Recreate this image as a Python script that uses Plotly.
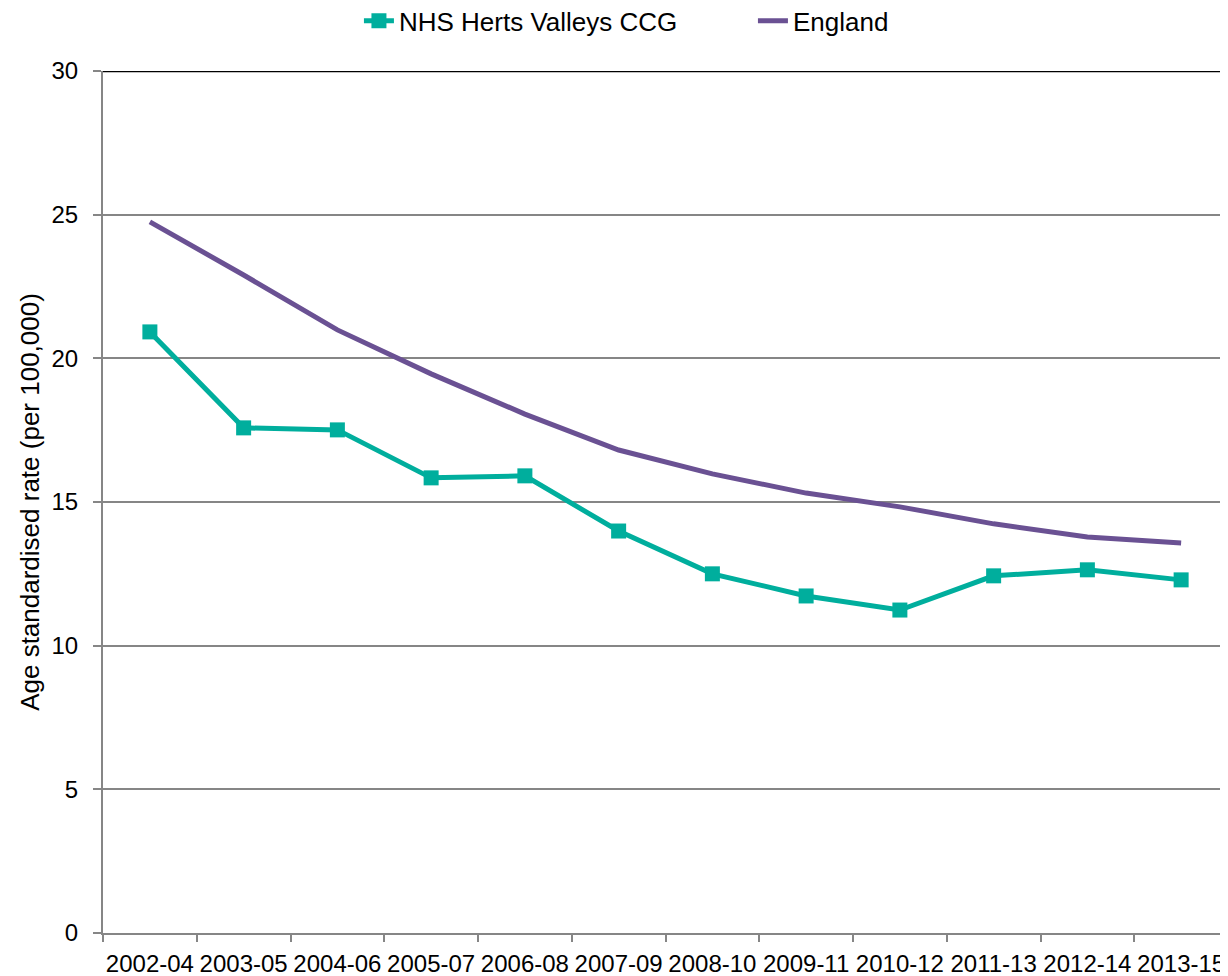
import plotly.graph_objects as go

periods = ["2002-04", "2003-05", "2004-06", "2005-07", "2006-08", "2007-09",
           "2008-10", "2009-11", "2010-12", "2011-13", "2012-14", "2013-15"]
herts_valleys = [20.92, 17.58, 17.51, 15.84, 15.91, 13.99, 12.50, 11.73, 11.24, 12.43, 12.64, 12.29]
england = [24.75, 22.90, 20.99, 19.46, 18.06, 16.81, 15.98, 15.31, 14.83, 14.24, 13.78, 13.57]
y_ticks = [0, 5, 10, 15, 20, 25, 30]

TEAL = "#00AE9D"
PURPLE = "#6A5193"
GRID = "#868686"
FONT = "Liberation Sans, Arial, sans-serif"

fig = go.Figure()
fig.add_trace(go.Scatter(
    x=periods, y=herts_valleys, name="NHS Herts Valleys CCG",
    mode="lines+markers",
    line=dict(color=TEAL, width=5),
    marker=dict(symbol="square", size=15, color=TEAL),
))
fig.add_trace(go.Scatter(
    x=periods, y=england, name="England",
    mode="lines",
    line=dict(color=PURPLE, width=5),
))

fig.add_shape(type="line", xref="paper", yref="y", x0=0, x1=1, y0=30, y1=30,
              line=dict(color="black", width=2.5))

# page body has an 8px margin, so the figure is sized/offset to compensate
fig.update_layout(
    width=1220, height=968,
    margin=dict(l=95, r=0, t=63, b=43, autoexpand=False),
    paper_bgcolor="white", plot_bgcolor="white",
    font=dict(family=FONT, size=24, color="black"),
    legend=dict(orientation="h", x=0.2275, xanchor="left",
                yref="container", y=0.9866, yanchor="middle",
                font=dict(size=26), entrywidth=349, entrywidthmode="pixels"),
    showlegend=True,
)
fig.update_xaxes(
    type="category", range=[-0.5, 11.5], tickangle=0, automargin=False,
    tickson="boundaries", ticks="outside", ticklen=7, tickcolor=GRID, tickwidth=2,
    ticklabelstandoff=8,
    showgrid=False, showline=True, linecolor=GRID, linewidth=2,
    tickfont=dict(size=24),
)
fig.update_yaxes(
    range=[0, 30], tickvals=y_ticks, automargin=False,
    ticks="outside", ticklen=8, tickcolor=GRID, tickwidth=2,
    ticklabelstandoff=10,
    showgrid=True, gridcolor=GRID, gridwidth=1.5,
    showline=True, linecolor=GRID, linewidth=2,
    zeroline=False,
    title=dict(text="Age standardised rate (per 100,000)", font=dict(size=26), standoff=4),
    tickfont=dict(size=24),
)

fig.write_html("out.html")
